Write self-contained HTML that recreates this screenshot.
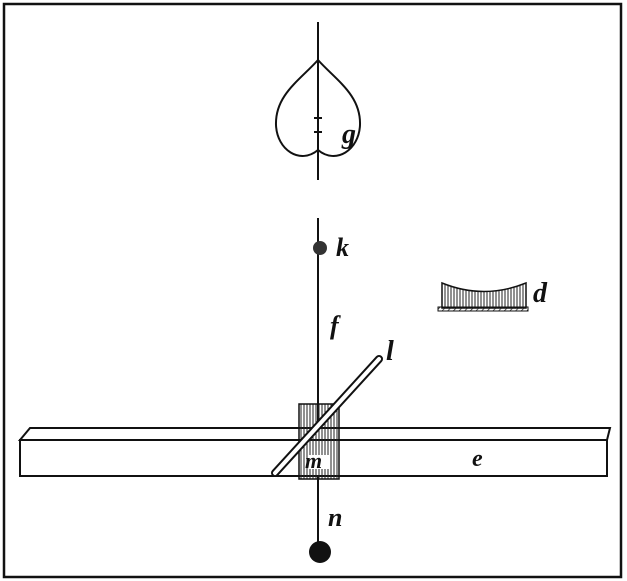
<!DOCTYPE html>
<html><head><meta charset="utf-8"><style>
html,body{margin:0;padding:0;background:#fff;}
svg{display:block;}
text{font-family:"Liberation Serif",serif;font-style:italic;font-weight:bold;fill:#111;}
</style></head><body>
<svg width="627" height="581" viewBox="0 0 627 581">
<defs>
<pattern id="hatch" width="3" height="6" patternUnits="userSpaceOnUse"><line x1="1" y1="0" x2="1" y2="6" stroke="#222" stroke-width="1"/></pattern>
<pattern id="diag" width="4" height="4" patternUnits="userSpaceOnUse" patternTransform="rotate(45)"><line x1="0" y1="0" x2="0" y2="4" stroke="#222" stroke-width="1.5"/></pattern>
</defs>
<rect x="4" y="4" width="617" height="573" fill="none" stroke="#111" stroke-width="2.5"/>
<g stroke="#111" fill="none" stroke-width="2">
<line x1="318" y1="22" x2="318" y2="180"/>
<path d="M318,60 C300,80 275,95 276,125 C277,150 300,165 318,150 C336,165 359,150 360,125 C361,95 336,80 318,60 Z"/>
<line x1="314" y1="118" x2="322" y2="118"/><line x1="314" y1="132" x2="322" y2="132"/>
</g>
<text x="342" y="143" font-size="28">g</text>
<line x1="318" y1="218" x2="318" y2="545" stroke="#111" stroke-width="2"/>
<circle cx="320" cy="248" r="7" fill="#333"/>
<text x="336" y="256" font-size="26">k</text>
<text x="330" y="334" font-size="26">f</text>
<g>
<path d="M442,283 Q484,300 526,283 L526,308 L442,308 Z" fill="url(#hatch)" stroke="#111" stroke-width="1.5"/>
<rect x="438" y="307" width="90" height="4" fill="url(#diag)" stroke="#111" stroke-width="1"/>
</g>
<text x="533" y="302" font-size="28">d</text>
<g stroke="#111" stroke-width="2" fill="#fff">
<path d="M20,440 L30,428 L610,428 L607,440 Z"/>
<rect x="20" y="440" width="587" height="36"/>
</g>
<text x="472" y="466" font-size="24">e</text>
<g>
<rect x="299" y="404" width="40" height="75" fill="url(#hatch)" stroke="#111" stroke-width="1.5"/>
<rect x="309" y="455" width="20" height="14" fill="#fff"/>
</g>
<text x="305" y="468" font-size="22">m</text>
<g>
<line x1="275" y1="473" x2="379" y2="359" stroke="#111" stroke-width="8" stroke-linecap="round"/>
<line x1="275" y1="473" x2="379" y2="359" stroke="#fff" stroke-width="4" stroke-linecap="round"/>
</g>
<text x="386" y="360" font-size="28">l</text>
<text x="328" y="526" font-size="26">n</text>
<circle cx="320" cy="552" r="11" fill="#111"/>
</svg>
</body></html>
